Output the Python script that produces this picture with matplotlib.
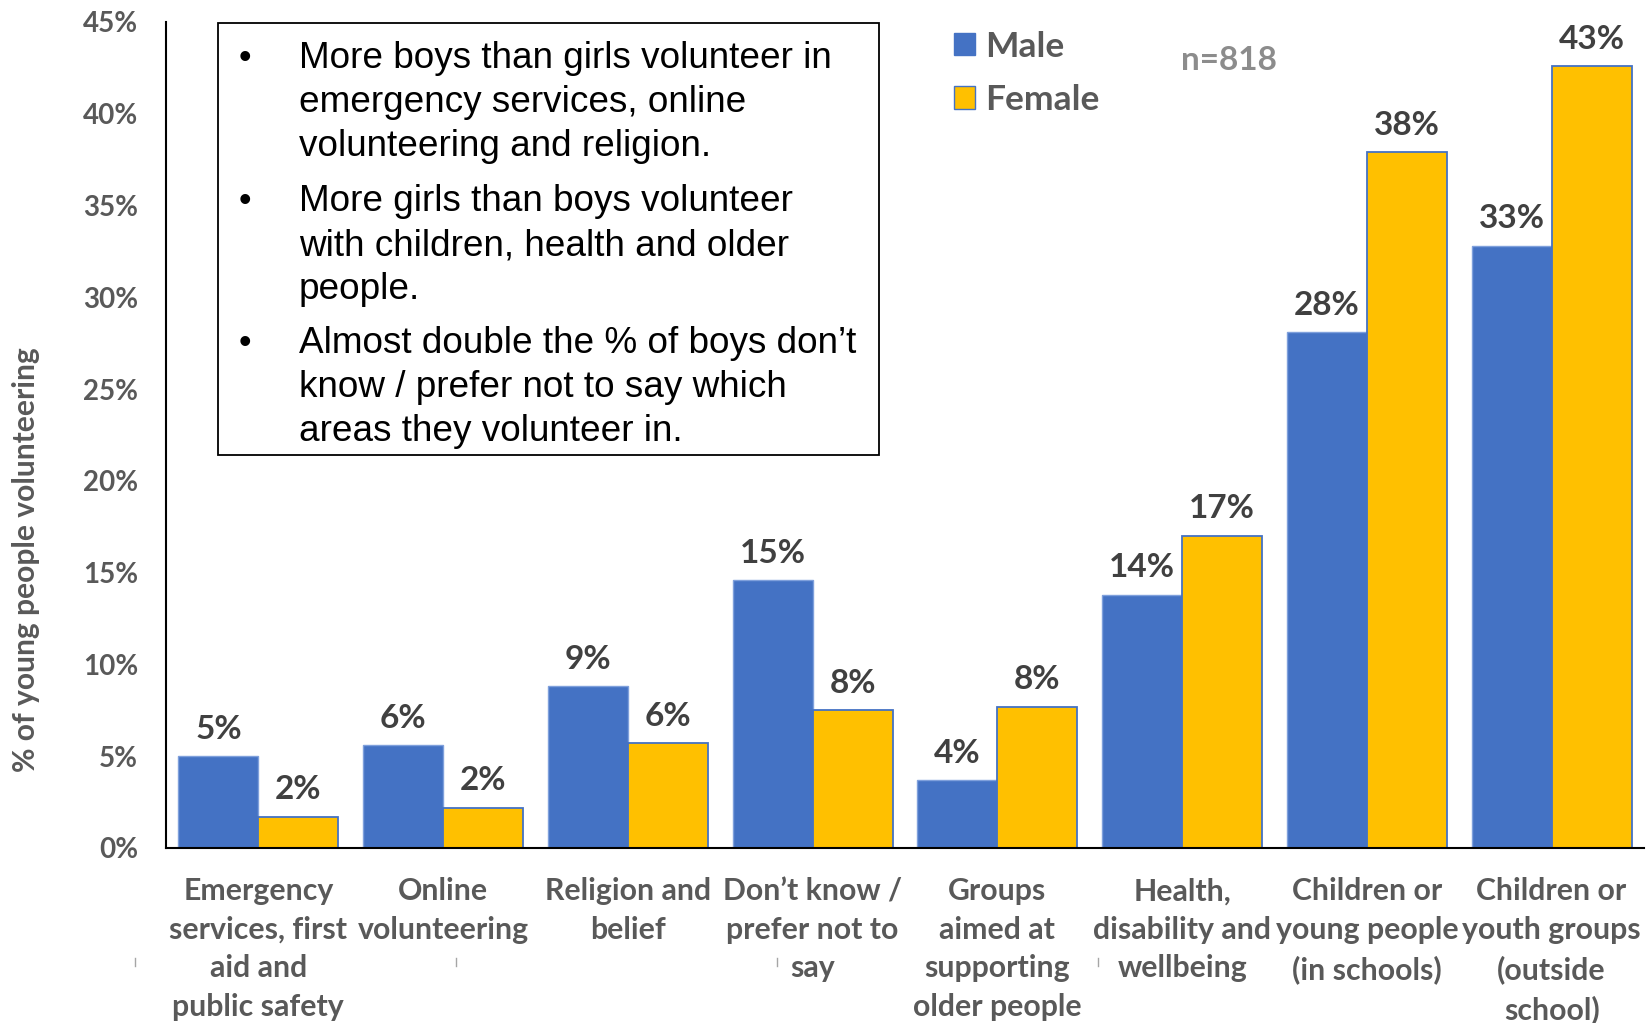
import math
import matplotlib
matplotlib.use("Agg")
import matplotlib.pyplot as plt
from matplotlib.patches import Rectangle, Patch
from matplotlib.lines import Line2D
import numpy as np

# volunteering areas, split by gender (% of young people, n=818)
categories = [
    "Emergency\nservices, first\naid and\npublic safety",
    "Online\nvolunteering",
    "Religion and\nbelief",
    "Don\u2019t know /\nprefer not to\nsay",
    "Groups\naimed at\nsupporting\nolder people",
    "Health,\ndisability and\nwellbeing",
    "Children or\nyoung people\n(in schools)",
    "Children or\nyouth groups\n(outside\nschool)",
]
male = [5.0, 5.6, 8.8, 14.6, 3.7, 13.8, 28.1, 32.8]
female = [1.7, 2.2, 5.7, 7.5, 7.7, 17.0, 37.9, 42.6]
yticks = [0, 5, 10, 15, 20, 25, 30, 35, 40, 45]

bullets = [
    ["More boys than girls volunteer in",
     "emergency services, online",
     "volunteering and religion."],
    ["More girls than boys volunteer",
     "with children, health and older",
     "people."],
    ["Almost double the % of boys don\u2019t",
     "know / prefer not to say which",
     "areas they volunteer in."],
]

BLUE = "#4472C4"
GOLD = "#FFC000"
GREY = "#595959"
DARK = "#404040"
LABEL_FONT = "Lato"
BOX_FONT = "Liberation Sans"

W, H = 1650, 1023


def fx(px):
    return px / W


def fy(py):
    return 1 - py / H


def pct(v):
    return "%d%%" % math.floor(v + 0.5)


fig = plt.figure(figsize=(W / 100, H / 100), dpi=100)
ax = fig.add_axes([fx(166), fy(848), (1644 - 166) / W, (848 - 22) / H])

x = np.arange(len(categories))
w = 0.433
ax.bar(x - w / 2, male, w, color=BLUE, edgecolor="#7FA0DC", linewidth=1.0, label="Male")
ax.bar(x + w / 2, female, w, color=GOLD, edgecolor=BLUE, linewidth=1.3, label="Female")

for xi, m, f in zip(x, male, female):
    for xx, v in ((xi - w / 2, m), (xi + w / 2, f)):
        ax.annotate(pct(v), (xx, v), xytext=(0, 9), textcoords="offset points",
                    ha="center", va="bottom", fontsize=24, fontweight="bold",
                    color=DARK, family=LABEL_FONT)

ax.set_xlim(-0.5, len(categories) - 0.5)
ax.set_ylim(0, 45)
ax.set_yticks(yticks)
ax.set_yticklabels(["%d%%" % t for t in yticks])
ax.set_xticks(x)
ax.set_xticklabels(categories, linespacing=1.46)
ax.tick_params(axis="y", length=0, pad=20, labelsize=20, labelcolor=GREY)
ax.tick_params(axis="x", length=0, pad=21, labelsize=21.8, labelcolor=GREY)
for lab in ax.get_yticklabels() + ax.get_xticklabels():
    lab.set_fontweight("bold")
    lab.set_family(LABEL_FONT)

for s in ("top", "right"):
    ax.spines[s].set_visible(False)
for s in ("left", "bottom"):
    ax.spines[s].set_color("black")
    ax.spines[s].set_linewidth(1.5)

fig.text(fx(26), fy(560), "% of young people volunteering", rotation=90,
         ha="center", va="center", fontsize=21.6, fontweight="bold",
         color=GREY, family=LABEL_FONT)

# legend and sample size
handles = [Patch(facecolor=BLUE, edgecolor=BLUE, label="Male"),
           Patch(facecolor=GOLD, edgecolor=BLUE, label="Female")]
leg = fig.legend(handles=handles, loc="upper left",
                 bbox_to_anchor=(fx(936), fy(13)), frameon=False,
                 handlelength=0.6, handleheight=0.6, handletextpad=0.3,
                 labelspacing=0.6, borderpad=0,
                 prop={"family": LABEL_FONT, "weight": "bold", "size": 25.5})
for t in leg.get_texts():
    t.set_color(GREY)

fig.text(fx(1229), fy(60), "n=818", ha="center", va="center", fontsize=24,
         fontweight="bold", color="#8C8C8C", family=LABEL_FONT)

# notes box
fig.add_artist(Rectangle((fx(218), fy(455)), (879 - 218) / W, (455 - 23) / H,
                         transform=fig.transFigure, fill=False,
                         edgecolor="black", linewidth=1.3))
starts = [68, 211, 353]
for base, lines in zip(starts, bullets):
    fig.text(fx(245), fy(base), "\u2022", ha="center", va="baseline",
             fontsize=26, color="black", family=BOX_FONT)
    for i, line in enumerate(lines):
        fig.text(fx(299), fy(base + i * 44), line, ha="left", va="baseline",
                 fontsize=26.6, color="black", family=BOX_FONT)

# small stray marks under the category axis
for px in (135, 456, 777, 1098):
    fig.add_artist(Line2D([fx(px), fx(px)], [fy(958), fy(966)],
                          transform=fig.transFigure, color="#A6A6A6", linewidth=1))

fig.savefig("out.png", dpi=100)
